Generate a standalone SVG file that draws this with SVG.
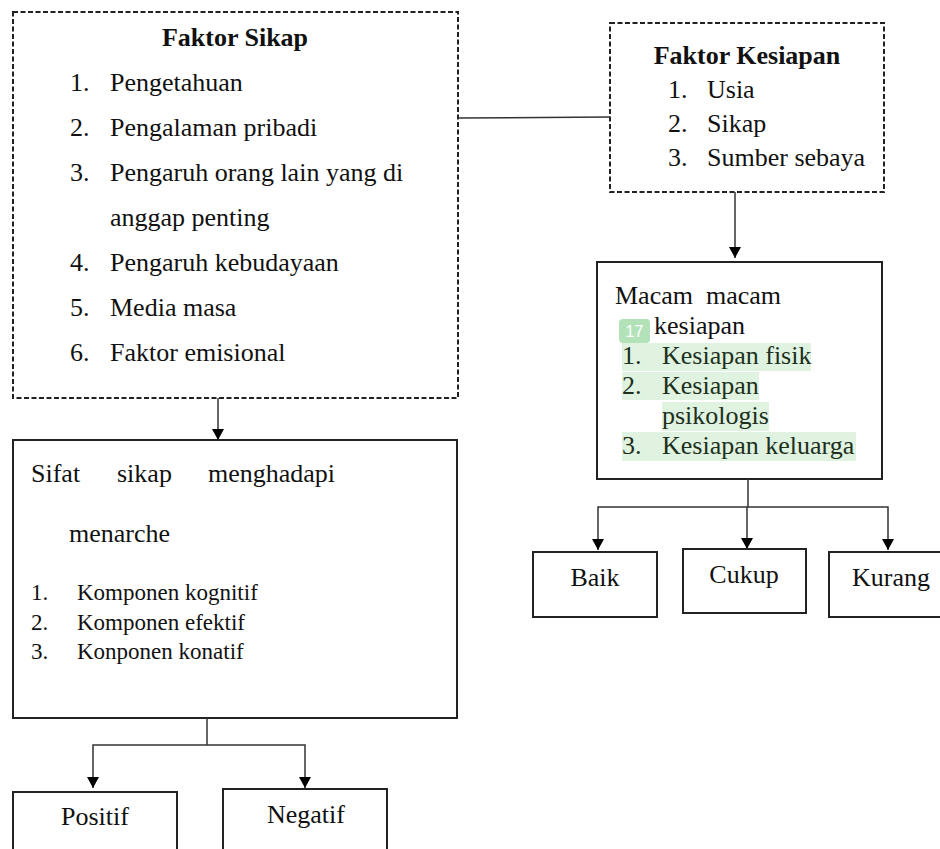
<svg xmlns="http://www.w3.org/2000/svg" width="940" height="849" viewBox="0 0 940 849">
<defs>
<style>
.t{font-family:"Liberation Serif","Times New Roman",serif;font-size:26px;fill:#111}
.b{font-weight:bold}
.s{font-size:23px}
.g{fill:#1d2f1d}
.dash{fill:#fff;stroke:#222;stroke-width:2;stroke-dasharray:5 2.5}
.box{fill:#fff;stroke:#222;stroke-width:2}
.hl{fill:#e0f3e0}
.ln{fill:none;stroke:#333;stroke-width:1.5}
</style>
<marker id="ar" viewBox="0 0 11 12" refX="11" refY="6" markerWidth="11" markerHeight="12" markerUnits="userSpaceOnUse" orient="auto-start-reverse">
<path d="M0,0 L11,6 L0,12 Z" fill="#000"/>
</marker>
</defs>
<rect width="940" height="849" fill="#fff"/>

<g id="faktor-sikap">
<rect class="dash" x="13" y="12" width="445" height="386"/>
<text class="t b" x="235" y="46" text-anchor="middle">Faktor Sikap</text>
<text class="t" x="70" y="91">1.</text><text class="t" x="110" y="91">Pengetahuan</text>
<text class="t" x="70" y="136">2.</text><text class="t" x="110" y="136">Pengalaman pribadi</text>
<text class="t" x="70" y="181">3.</text><text class="t" x="110" y="181">Pengaruh orang lain yang di</text>
<text class="t" x="110" y="226">anggap penting</text>
<text class="t" x="70" y="271">4.</text><text class="t" x="110" y="271">Pengaruh kebudayaan</text>
<text class="t" x="70" y="316">5.</text><text class="t" x="110" y="316">Media masa</text>
<text class="t" x="70" y="361">6.</text><text class="t" x="110" y="361">Faktor emisional</text>
</g>

<g id="faktor-kesiapan">
<rect class="dash" x="610" y="23" width="274" height="169"/>
<text class="t b" x="747" y="64" text-anchor="middle">Faktor Kesiapan</text>
<text class="t" x="668" y="98">1.</text><text class="t" x="707" y="98">Usia</text>
<text class="t" x="668" y="132">2.</text><text class="t" x="707" y="132">Sikap</text>
<text class="t" x="668" y="166">3.</text><text class="t" x="707" y="166">Sumber sebaya</text>
</g>

<g id="macam-kesiapan">
<rect class="box" x="597" y="262" width="285" height="217"/>
<rect class="hl" x="622" y="343" width="189" height="28"/>
<rect class="hl" x="622" y="372" width="137" height="28"/>
<rect class="hl" x="662" y="402" width="107" height="29"/>
<rect class="hl" x="622" y="432" width="234" height="29"/>
<rect x="619" y="319" width="31" height="24" rx="4" fill="#b3e2b9"/>
<text x="634.5" y="337" text-anchor="middle" font-family="Liberation Sans, Arial, sans-serif" font-size="16" fill="#fff">17</text>
<text class="t" x="615" y="304" xml:space="preserve">Macam  macam</text>
<text class="t" x="654" y="334">kesiapan</text>
<text class="t g" x="622" y="364">1.</text><text class="t g" x="662" y="364">Kesiapan fisik</text>
<text class="t g" x="622" y="394">2.</text><text class="t g" x="662" y="394">Kesiapan</text>
<text class="t g" x="662" y="424">psikologis</text>
<text class="t g" x="622" y="454">3.</text><text class="t g" x="662" y="454">Kesiapan keluarga</text>
</g>

<g id="sifat-sikap">
<rect class="box" x="13" y="440" width="444" height="278"/>
<text class="t" x="31" y="482">Sifat</text>
<text class="t" x="117" y="482">sikap</text>
<text class="t" x="208" y="482">menghadapi</text>
<text class="t" x="69" y="542">menarche</text>
<text class="t s" x="31" y="600">1.</text><text class="t s" x="77" y="600">Komponen kognitif</text>
<text class="t s" x="31" y="630">2.</text><text class="t s" x="77" y="630">Komponen efektif</text>
<text class="t s" x="31" y="659">3.</text><text class="t s" x="77" y="659">Konponen konatif</text>
</g>

<g id="baik">
<rect class="box" x="533" y="552" width="124" height="65"/>
<text class="t" x="595" y="586" text-anchor="middle">Baik</text>
</g>
<g id="cukup">
<rect class="box" x="683" y="549" width="123" height="64"/>
<text class="t" x="744" y="583" text-anchor="middle">Cukup</text>
</g>
<g id="kurang">
<rect class="box" x="829" y="552" width="120" height="65"/>
<text class="t" x="891" y="586" text-anchor="middle">Kurang</text>
</g>

<g id="positif">
<rect class="box" x="13" y="792" width="164" height="70"/>
<text class="t" x="95" y="825" text-anchor="middle">Positif</text>
</g>
<g id="negatif">
<rect class="box" x="223" y="789" width="164" height="73"/>
<text class="t" x="306" y="823" text-anchor="middle">Negatif</text>
</g>

<g id="connectors">
<line class="ln" x1="458" y1="118" x2="610" y2="117"/>
<line class="ln" x1="735" y1="192" x2="735" y2="258" marker-end="url(#ar)"/>
<line class="ln" x1="218" y1="398" x2="218" y2="440" marker-end="url(#ar)"/>
<path class="ln" d="M207,718 V745" stroke-width="2.5"/>
<path class="ln" d="M93,788 V745 H305 V788" marker-start="url(#ar)" marker-end="url(#ar)"/>
<path class="ln" d="M748,479 V507"/>
<path class="ln" d="M598,550 V507 H888 V550" marker-start="url(#ar)" marker-end="url(#ar)"/>
<line class="ln" x1="747" y1="507" x2="747" y2="549" marker-end="url(#ar)"/>
</g>
</svg>
